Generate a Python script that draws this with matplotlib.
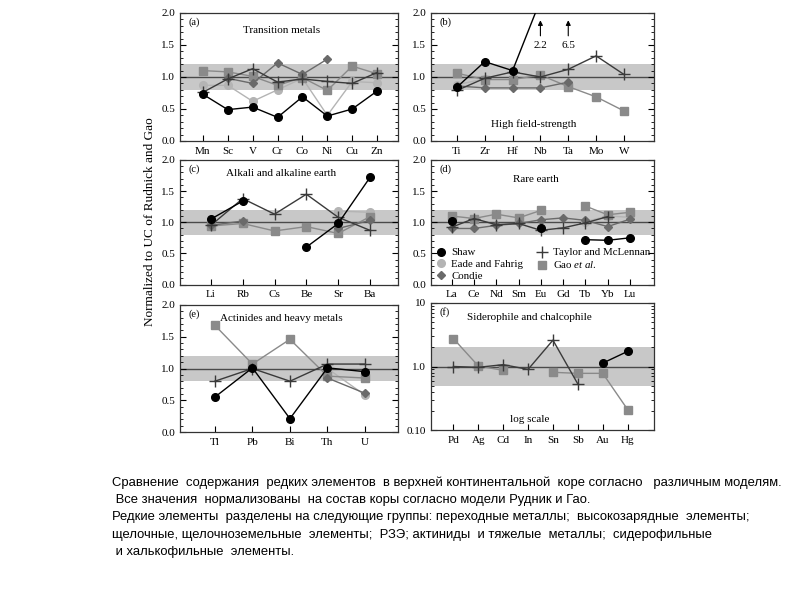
import matplotlib

matplotlib.use("Agg")
import matplotlib.pyplot as plt
import numpy as np
from matplotlib.lines import Line2D
from matplotlib.ticker import MultipleLocator, NullFormatter

nan = np.nan

# (a) transition metals
A_EL = ["Mn", "Sc", "V", "Cr", "Co", "Ni", "Cu", "Zn"]
A_SHAW = [0.73, 0.49, 0.53, 0.37, 0.69, 0.39, 0.50, 0.78]
A_EADE = [0.87, 0.87, 0.62, 0.80, 0.98, 0.40, 0.93, 0.91]
A_CONDIE = [nan, 0.98, 0.90, 1.22, 1.04, 1.28, nan, nan]
A_TAYLOR = [0.76, 0.97, 1.13, 0.92, 0.97, 0.93, 0.90, 1.07]
A_GAO = [1.10, 1.08, 1.01, 0.87, 0.99, 0.79, 1.17, 1.05]

# (b) high field-strength
B_EL = ["Ti", "Zr", "Hf", "Nb", "Ta", "Mo", "W"]
B_SHAW = [0.84, 1.24, 1.10, 2.2, 6.5, nan, nan]
B_EADE = [0.88, 0.97, nan, nan, nan, nan, nan]
B_CONDIE = [0.86, 0.83, 0.83, 0.83, 0.92, nan, nan]
B_TAYLOR = [0.79, 0.98, 1.08, 1.00, 1.12, 1.33, 1.04]
B_GAO = [1.06, 0.96, 0.96, 1.03, 0.85, 0.69, 0.47]

# (c) alkali and alkaline earth
C_EL = ["Li", "Rb", "Cs", "Be", "Sr", "Ba"]
C_SHAW = [1.05, 1.34, nan, 0.60, 0.98, 1.72]
C_EADE = [nan, nan, nan, nan, 1.18, 1.16]
C_CONDIE = [0.95, 1.02, nan, nan, 0.90, 1.03]
C_TAYLOR = [0.95, 1.38, 1.13, 1.45, 1.08, 0.87]
C_GAO = [0.94, 0.98, 0.86, 0.93, 0.82, 1.09]

# (d) rare earth
D_EL = ["La", "Ce", "Nd", "Sm", "Eu", "Gd", "Tb", "Yb", "Lu"]
D_SHAW = [1.02, nan, nan, nan, 0.91, nan, 0.72, 0.71, 0.75]
D_EADE = [nan, nan, nan, nan, nan, nan, 1.01, 1.10, 1.08]
D_CONDIE = [0.90, 0.90, 0.95, 0.98, 1.04, 1.07, 1.03, 0.93, 1.05]
D_TAYLOR = [0.92, 1.06, 0.96, 0.98, 0.87, 0.91, 0.99, 1.09, nan]
D_GAO = [1.10, 1.06, 1.13, 1.07, 1.19, nan, 1.26, 1.12, 1.16]

# (e) actinides and heavy metals
E_EL = ["Tl", "Pb", "Bi", "Th", "U"]
E_SHAW = [0.55, 1.01, 0.21, 1.01, 0.95]
E_EADE = [nan, nan, nan, 1.00, 0.58]
E_CONDIE = [nan, nan, nan, 0.85, 0.61]
E_TAYLOR = [0.80, 1.00, 0.80, 1.07, 1.07]
E_GAO = [1.68, 1.07, 1.46, 0.88, 0.85]

# (f) siderophile and chalcophile (log scale)
F_EL = ["Pd", "Ag", "Cd", "In", "Sn", "Sb", "Au", "Hg"]
F_SHAW = [nan, nan, nan, nan, nan, nan, 1.13, 1.73]
F_TAYLOR = [1.0, 0.97, 1.07, 0.90, 2.6, 0.53, nan, nan]
F_GAO = [2.75, 1.02, 0.87, nan, 0.81, 0.78, 0.78, 0.21]

LABELS = ["Shaw", "Eade and Fahrig", "Condie", "Taylor and McLennan", "Gao $\\mathit{et\\ al.}$"]

STYLE = {
    "Shaw": dict(color="black", marker="o", ms=5.5, mec="black", lw=1.0),
    "Eade": dict(color="#b4b4b4", marker="o", ms=5.5, mec="#b4b4b4", lw=1.0),
    "Condie": dict(color="#6a6a6a", marker="D", ms=4.2, mec="#6a6a6a", lw=1.0),
    "Taylor": dict(color="#3a3a3a", marker="+", ms=8.5, mew=1.0, lw=1.0),
    "Gao": dict(color="#8a8a8a", marker="s", ms=5.5, mec="#8a8a8a", lw=1.0),
}

plt.rcParams["font.family"] = ["Liberation Serif", "DejaVu Serif"]
plt.rcParams["mathtext.fontset"] = "custom"
plt.rcParams["mathtext.rm"] = "Liberation Serif"
plt.rcParams["mathtext.it"] = "Liberation Serif:italic"

fig = plt.figure(figsize=(8, 6), dpi=100)
W, H = 800.0, 600.0


def make_ax(left, right, top, bottom):
    return fig.add_axes([left / W, 1 - bottom / H, (right - left) / W, (bottom - top) / H])


def draw_series(ax, series, order):
    x = np.arange(len(series[0]))
    for key in order:
        vals = np.array(series[1][key], dtype=float)
        ax.plot(x, vals, zorder=3, **STYLE[key])


def style_ax(ax, elements, xlim, log=False):
    ax.set_xlim(*xlim)
    ax.set_xticks(np.arange(len(elements)))
    ax.set_xticklabels(elements)
    ax.tick_params(axis="x", direction="in", length=4, pad=4, labelsize=8, top=False)
    ax.tick_params(axis="y", which="both", direction="in", right=True, labelsize=8)
    ax.tick_params(axis="y", which="major", length=4)
    ax.tick_params(axis="y", which="minor", length=2)
    if log:
        ax.set_yscale("log")
        ax.set_ylim(0.1, 10)
        ax.set_yticks([0.1, 1.0, 10])
        ax.set_yticklabels(["0.10", "1.0", "10"])
        ax.yaxis.set_minor_formatter(NullFormatter())
        ax.axhspan(0.5, 2.0, color="#c8c8c8", zorder=0, lw=0)
    else:
        ax.set_ylim(0, 2.0)
        ax.yaxis.set_major_locator(MultipleLocator(0.5))
        ax.yaxis.set_minor_locator(MultipleLocator(0.1))
        ax.yaxis.set_major_formatter(plt.FormatStrFormatter("%.1f"))
        ax.axhspan(0.8, 1.2, color="#c8c8c8", zorder=0, lw=0)
    ax.axhline(1.0, color="#4a4a4a", lw=1.0, zorder=1)
    for s in ax.spines.values():
        s.set_color("#333333")
        s.set_linewidth(0.9)


# panel a
ax = make_ax(180, 398, 13, 141)
draw_series(ax, (A_EL, {"Shaw": A_SHAW, "Eade": A_EADE, "Condie": A_CONDIE,
                        "Taylor": A_TAYLOR, "Gao": A_GAO}),
            ["Eade", "Gao", "Condie", "Taylor", "Shaw"])
style_ax(ax, A_EL, (-0.92, 7.84))
ax.text(0.04, 0.93, "(a)", transform=ax.transAxes, fontsize=7.5, va="center")
ax.text(3.15, 1.73, "Transition metals", fontsize=8, ha="center", va="center")

# panel b
ax = make_ax(431, 654, 13, 141)
draw_series(ax, (B_EL, {"Shaw": B_SHAW, "Eade": B_EADE, "Condie": B_CONDIE,
                        "Taylor": B_TAYLOR, "Gao": B_GAO}),
            ["Eade", "Gao", "Condie", "Taylor", "Shaw"])
style_ax(ax, B_EL, (-0.93, 7.08))
ax.text(0.04, 0.93, "(b)", transform=ax.transAxes, fontsize=7.5, va="center")
ax.text(2.75, 0.26, "High field-strength", fontsize=8, ha="center", va="center")
for i in (3, 4):
    ax.annotate("", xy=(i, 1.93), xytext=(i, 1.6),
                arrowprops=dict(arrowstyle="-|>", color="black", lw=0.8, mutation_scale=7))
    ax.text(i, 1.5, f"{B_SHAW[i]}", fontsize=8, ha="center", va="center")

# panel c
ax = make_ax(180, 398, 160, 284.5)
draw_series(ax, (C_EL, {"Shaw": C_SHAW, "Eade": C_EADE, "Condie": C_CONDIE,
                        "Taylor": C_TAYLOR, "Gao": C_GAO}),
            ["Eade", "Gao", "Condie", "Taylor", "Shaw"])
style_ax(ax, C_EL, (-0.97, 5.88))
ax.text(0.04, 0.93, "(c)", transform=ax.transAxes, fontsize=7.5, va="center")
ax.text(2.2, 1.79, "Alkali and alkaline earth", fontsize=8, ha="center", va="center")

# panel d
ax = make_ax(431, 654, 160, 284.5)
draw_series(ax, (D_EL, {"Shaw": D_SHAW, "Eade": D_EADE, "Condie": D_CONDIE,
                        "Taylor": D_TAYLOR, "Gao": D_GAO}),
            ["Eade", "Gao", "Condie", "Taylor", "Shaw"])
style_ax(ax, D_EL, (-0.93, 9.08))
ax.text(0.04, 0.93, "(d)", transform=ax.transAxes, fontsize=7.5, va="center")
ax.text(3.8, 1.69, "Rare earth", fontsize=8, ha="center", va="center")
handles = []
for key in ["Shaw", "Eade", "Condie", "Taylor", "Gao"]:
    st = dict(STYLE[key])
    st.pop("lw")
    handles.append(Line2D([], [], ls="none", **st))
ax.legend(handles, LABELS, ncol=2, loc="lower left", bbox_to_anchor=(-0.02, -0.04),
          frameon=False, fontsize=7.8, handlelength=1.0, handletextpad=0.5,
          columnspacing=1.2, labelspacing=0.2, borderpad=0.3)

# panel e
ax = make_ax(180, 398, 305, 432)
draw_series(ax, (E_EL, {"Shaw": E_SHAW, "Eade": E_EADE, "Condie": E_CONDIE,
                        "Taylor": E_TAYLOR, "Gao": E_GAO}),
            ["Eade", "Gao", "Condie", "Taylor", "Shaw"])
style_ax(ax, E_EL, (-0.93, 4.88))
ax.text(0.04, 0.93, "(e)", transform=ax.transAxes, fontsize=7.5, va="center")
ax.text(1.78, 1.79, "Actinides and heavy metals", fontsize=8, ha="center", va="center")

# panel f
ax = make_ax(431, 654, 303, 430)
draw_series(ax, (F_EL, {"Shaw": F_SHAW, "Taylor": F_TAYLOR, "Gao": F_GAO}),
            ["Gao", "Taylor", "Shaw"])
style_ax(ax, F_EL, (-0.9, 8.06), log=True)
ax.text(0.04, 0.93, "(f)", transform=ax.transAxes, fontsize=7.5, va="center")
ax.text(3.05, 5.9, "Siderophile and chalcophile", fontsize=8, ha="center", va="center")
ax.text(3.05, 0.145, "log scale", fontsize=8, ha="center", va="center")

fig.text(150 / W, 1 - 222 / H, "Normalized to UC of Rudnick and Gao", rotation=90,
         fontsize=9.5, ha="center", va="center")

caption = [
    "Сравнение  содержания  редких элементов  в верхней континентальной  коре согласно   различным моделям.",
    " Все значения  нормализованы  на состав коры согласно модели Рудник и Гао.",
    "Редкие элементы  разделены на следующие группы: переходные металлы;  высокозарядные  элементы;",
    "щелочные, щелочноземельные  элементы;  РЗЭ; актиниды  и тяжелые  металлы;  сидерофильные",
    " и халькофильные  элементы.",
]
for i, line in enumerate(caption):
    fig.text(112 / W, 1 - (483 + 17.2 * i) / H, line, fontsize=9.4,
             family=["Liberation Sans", "DejaVu Sans"], ha="left", va="center")

fig.savefig("out.png", dpi=100)
